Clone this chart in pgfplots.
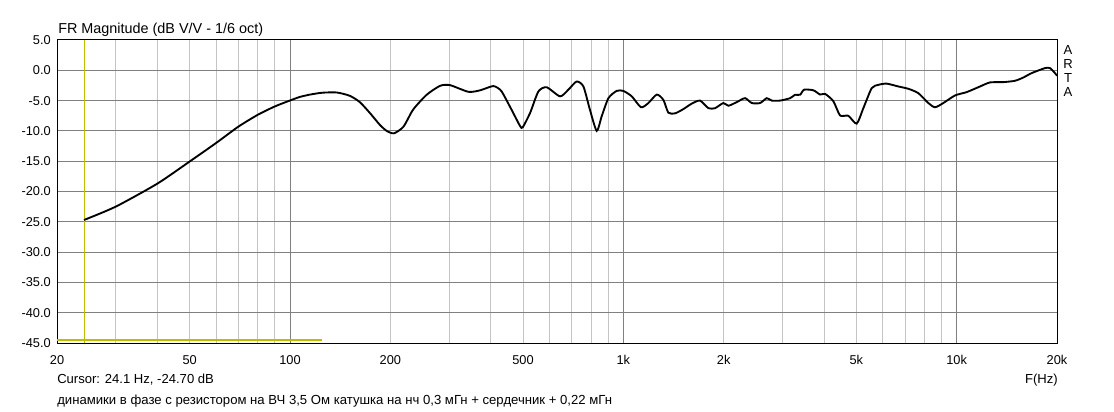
\documentclass[border=0pt]{standalone}
\usepackage{fontspec}
\setmainfont{Liberation Sans}
\usepackage{pgfplots}
\pgfplotsset{compat=1.18}
\definecolor{gridmaj}{RGB}{128,128,128}
\definecolor{gridmin}{RGB}{196,196,196}
\definecolor{cursorc}{RGB}{190,190,0}
\begin{document}
\begin{tikzpicture}[x=0.75pt,y=0.75pt]
\path[use as bounding box] (0,0) rectangle (1114,411);
\begin{axis}[
  at={(42.75pt,51pt)}, anchor=south west,
  width=750pt, height=227.25pt, scale only axis,
  xmode=log, log basis x=10,
  xmin=20, xmax=20000, ymin=-45, ymax=5,
  xtick={20,50,100,200,500,1000,2000,5000,10000,20000},
  xticklabels={20,50,100,200,500,1k,2k,5k,10k,20k},
  minor xtick={30,40,50,60,70,80,90,200,300,400,500,600,700,800,900,2000,3000,4000,5000,6000,7000,8000,9000},
  extra x ticks={100,1000,10000},
  extra x tick labels={},
  extra x tick style={grid=major},
  xminorgrids=true,
  ytick={-45,-40,-35,-30,-25,-20,-15,-10,-5,0,5},
  yticklabels={-45.0,-40.0,-35.0,-30.0,-25.0,-20.0,-15.0,-10.0,-5.0,0.0,5.0},
  ymajorgrids=true,
  major grid style={draw=gridmaj, line width=0.75pt},
  minor grid style={draw=gridmin, line width=0.75pt},
  major tick length=0pt, minor tick length=0pt,
  axis line style={black, line width=0.75pt},
  ticklabel style={font=\fontsize{9.6}{11}\selectfont},
  xticklabel style={anchor=north, inner sep=0pt, yshift=-9pt},
  yticklabel style={anchor=east, inner sep=0pt, xshift=-4.5pt},
  clip=true,
]
\addplot[cursorc, line width=0.75pt] coordinates {(24.1,-45) (24.1,5)};
\addplot[cursorc, line width=1.6pt] coordinates {(20,-44.5) (124.5,-44.5)};
\addplot[black, line width=1.4pt, smooth, tension=0.4] coordinates {
(24.1,-24.7) (30,-22.5) (40,-18.7) (50,-15.05) (60,-12.0) (70,-9.3) (80,-7.35) (90,-5.97)
(100,-4.98) (107,-4.4) (115,-4.0) (125,-3.7) (138,-3.66) (151,-4.2) (162,-5.25) (174,-7.1)
(186,-9.0) (195,-10.0) (205,-10.4) (219,-9.3) (234,-6.5) (257,-4.04) (282,-2.56) (302,-2.45)
(343,-3.55) (372,-3.3) (407,-2.6) (427,-3.2) (437,-4.0) (462,-6.5) (490,-9.2) (499,-9.4)
(525,-7.05) (556,-3.5) (589,-2.8) (646,-4.3) (684,-3.2) (724,-1.85) (759,-2.67) (794,-6.5)
(832,-10.0) (861,-7.6) (902,-4.6) (955,-3.4) (1000,-3.4) (1060,-4.3) (1130,-6.1) (1189,-5.4)
(1260,-4.0) (1319,-4.9) (1365,-7.0) (1430,-7.1) (1514,-6.4) (1604,-5.5) (1699,-5.0) (1800,-6.25)
(1885,-6.25) (1996,-5.4) (2066,-5.85) (2189,-5.25) (2318,-4.6) (2428,-5.4) (2572,-5.4) (2693,-4.6)
(2788,-5.0) (2953,-5.0) (3164,-4.6) (3275,-4.04) (3390,-4.04) (3486,-3.2) (3718,-3.3) (3893,-4.0)
(4030,-3.9) (4267,-5.1) (4468,-7.45) (4731,-7.5) (5012,-8.8) (5249,-6.25) (5560,-2.95) (5821,-2.4)
(6166,-2.2) (6683,-2.67) (7161,-3.05) (7673,-3.77) (8222,-5.4) (8610,-6.1) (9120,-5.4) (9886,-4.15)
(10715,-3.6) (11750,-2.67) (12590,-2.0) (13800,-1.95) (14960,-1.73) (15850,-1.19) (16790,-0.46)
(18410,0.36) (19050,0.36) (19720,-0.46) (20000,-0.9)
};
\end{axis}
\node[anchor=base west, inner sep=0pt, font=\fontsize{10.8}{12}\selectfont] at (58,377) {FR Magnitude (dB V/V - 1/6 oct)};
\node[anchor=base west, inner sep=0pt, font=\fontsize{9.8}{11}\selectfont] at (57,28) {Cursor: 24.1 Hz, -24.70 dB};
\node[anchor=base east, inner sep=0pt, font=\fontsize{9.8}{11}\selectfont] at (1058,28) {F(Hz)};
\node[anchor=base west, inner sep=0pt, font=\fontsize{9.85}{11}\selectfont] at (57,7) {динамики в фазе с резистором на ВЧ 3,5 Ом катушка на нч 0,3 мГн + сердечник + 0,22 мГн};
\node[anchor=north, align=center, inner sep=0pt, font=\fontsize{9.8}{10.5}\selectfont] at (1068,366) {A\\R\\T\\A};
\end{tikzpicture}
\end{document}
